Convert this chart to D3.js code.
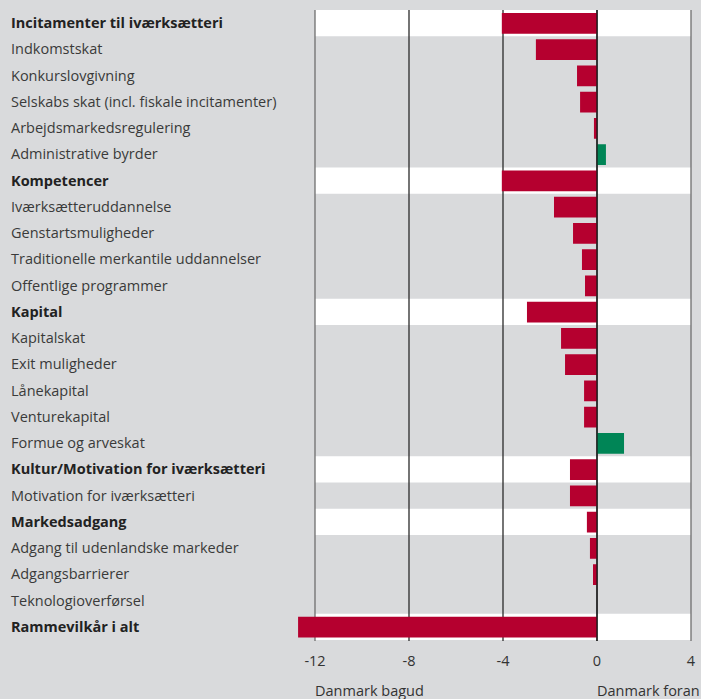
<!DOCTYPE html>
<html>
<head>
<meta charset="utf-8">
<script src="https://cdn.jsdelivr.net/npm/d3@7"></script>
<style>
  body { margin: 0; background: #d9dadc; }
  svg { display: block; font-family: "Open Sans", sans-serif; }
</style>
</head>
<body>
<div id="chart"></div>
<script>
const categories = [
  "Incitamenter til iværksætteri", "Indkomstskat", "Konkurslovgivning",
  "Selskabs skat (incl. fiskale incitamenter)", "Arbejdsmarkedsregulering",
  "Administrative byrder", "Kompetencer", "Iværksætteruddannelse",
  "Genstartsmuligheder", "Traditionelle merkantile uddannelser",
  "Offentlige programmer", "Kapital", "Kapitalskat", "Exit muligheder",
  "Lånekapital", "Venturekapital", "Formue og arveskat",
  "Kultur/Motivation for iværksætteri", "Motivation for iværksætteri",
  "Markedsadgang", "Adgang til udenlandske markeder", "Adgangsbarrierer",
  "Teknologioverførsel", "Rammevilkår i alt"
];
const values = [
  -4.05, -2.6, -0.85, -0.72, -0.13, 0.38,
  -4.05, -1.83, -1.02, -0.64, -0.51,
  -2.98, -1.53, -1.36, -0.55, -0.55, 1.15,
  -1.15, -1.15,
  -0.43, -0.3, -0.17, 0,
  -12.72
];
const headings = [
  "Incitamenter til iværksætteri", "Kompetencer", "Kapital",
  "Kultur/Motivation for iværksætteri", "Markedsadgang", "Rammevilkår i alt"
];
const tickValues = [-12, -8, -4, 0, 4];
const axisNotes = [
  { at: -12, text: "Danmark bagud" },
  { at: 0, text: "Danmark foran" }
];

const W = 701, H = 699;
const svg = d3.select("#chart").append("svg")
  .attr("width", W).attr("height", H);

svg.append("rect").attr("width", W).attr("height", H).attr("fill", "#d9dadc");

const x = d3.scaleLinear().domain([-12, 4]).range([315, 691]);
const y = d3.scaleBand().domain(categories).range([10, 640]).paddingInner(0).paddingOuter(0);
const barPad = 3;

// white bands behind heading rows
svg.selectAll("rect.band")
  .data(categories.filter(c => headings.includes(c)))
  .enter().append("rect")
  .attr("class", "band")
  .attr("x", x(-12))
  .attr("width", x(4) - x(-12))
  .attr("y", d => y(d))
  .attr("height", y.bandwidth())
  .attr("fill", "#fff");

// grid lines
svg.selectAll("line.grid")
  .data(tickValues)
  .enter().append("line")
  .attr("class", "grid")
  .attr("x1", d => x(d)).attr("x2", d => x(d))
  .attr("y1", 10).attr("y2", 641)
  .attr("stroke", d => (d === -12 || d === 4) ? "#6e6e6e" : "#2a2a2a")
  .attr("stroke-width", 1.3);

// bars
const data = categories.map((c, i) => ({ cat: c, v: values[i] }));
svg.selectAll("rect.bar")
  .data(data.filter(d => d.v !== 0))
  .enter().append("rect")
  .attr("class", "bar")
  .attr("x", d => x(Math.min(0, d.v)))
  .attr("width", d => Math.abs(x(d.v) - x(0)))
  .attr("y", d => y(d.cat) + barPad)
  .attr("height", y.bandwidth() - 2 * barPad + 0.5)
  .attr("fill", d => d.v < 0 ? "#b5002f" : "#008556");

// zero line on top
svg.append("line")
  .attr("x1", x(0)).attr("x2", x(0))
  .attr("y1", 10).attr("y2", 641)
  .attr("stroke", "#1a1a1a").attr("stroke-width", 1.3);

// category labels
svg.selectAll("text.cat")
  .data(categories)
  .enter().append("text")
  .attr("class", "cat")
  .attr("x", 11)
  .attr("y", d => y(d) + y.bandwidth() / 2 + 5)
  .attr("font-size", 14.5)
  .attr("font-weight", d => headings.includes(d) ? "bold" : "normal")
  .attr("fill", d => headings.includes(d) ? "#222" : "#3a3a3a")
  .text(d => d);

// tick labels
svg.selectAll("text.tick")
  .data(tickValues)
  .enter().append("text")
  .attr("class", "tick")
  .attr("x", d => x(d))
  .attr("y", 666)
  .attr("text-anchor", "middle")
  .attr("font-size", 14.5)
  .attr("fill", "#333")
  .text(d => d);

svg.selectAll("text.note")
  .data(axisNotes)
  .enter().append("text")
  .attr("class", "note")
  .attr("x", d => x(d.at))
  .attr("y", 696)
  .attr("font-size", 14.5)
  .attr("fill", "#333")
  .text(d => d.text);
</script>
</body>
</html>
